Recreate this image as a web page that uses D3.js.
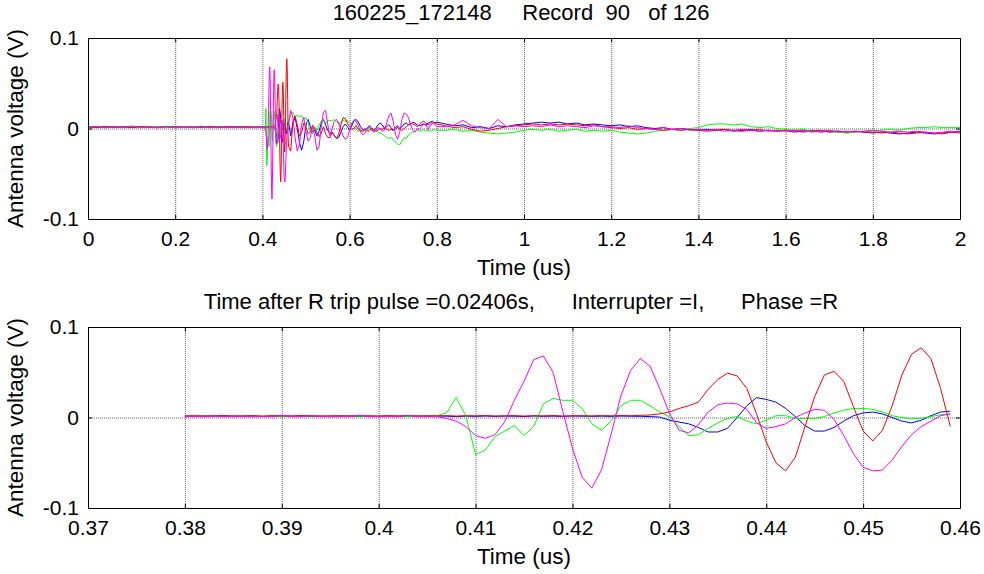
<!DOCTYPE html>
<html>
<head>
<meta charset="utf-8">
<script src="https://cdn.jsdelivr.net/npm/d3@7"></script>
<style>
  body { margin: 0; background: #fff; }
  text { font-family: "Liberation Sans", Arial, sans-serif; fill: #000; }
</style>
</head>
<body>
<svg id="my_svg"></svg>
<script>
const width = 984;
const height = 574;

// sample grids (us)
const earlyTime = d3.range(19).map(i => i * 0.02);          // 0 .. 0.36
const zoomTime = d3.range(80).map(i => 0.38 + i * 0.001);   // 0.380 .. 0.459
const midTime = d3.range(69).map(i => 0.46 + i * 0.005);    // 0.460 .. 0.800
const lateTime = d3.range(60).map(i => 0.82 + i * 0.02);    // 0.82 .. 2.00

// blue channel
const blueEarly = [0.0015, 0.0010, 0.0018, 0.0012, 0.0016, 0.0011, 0.0017, 0.0013, 0.0015, 0.0010, 0.0016, 0.0012, 0.0018, 0.0011, 0.0015, 0.0013, 0.0017, 0.0012, 0.0015];
const blueZoom = [0.0015, 0.0012, 0.0017, 0.0014, 0.0010, 0.0016, 0.0013, 0.0015, 0.0011, 0.0016,
  0.0014, 0.0012, 0.0016, 0.0013, 0.0015, 0.0010, 0.0014, 0.0016, 0.0012, 0.0015,
  0.0013, 0.0016, 0.0011, 0.0014, 0.0015, 0.0012, 0.0016, 0.0014, 0.0010, 0.0015,
  0.0013, 0.0016, 0.0012, 0.0015, 0.0014, 0.0011, 0.0016, 0.0013, 0.0015, 0.0012,
  0.0016, 0.0014, 0.0013, 0.0015, 0.0012, 0.0016, 0.0014, 0.0013, 0.0010, 0.0005,
  -0.003, -0.005, -0.007, -0.011, -0.016, -0.016, -0.012, 0.000, 0.013, 0.022,
  0.020, 0.017, 0.010, 0.001, -0.009, -0.015, -0.015, -0.011, -0.004, 0.002,
  0.005, 0.006, 0.004, 0.000, -0.004, -0.006, -0.003, 0.002, 0.006, 0.007];
const blueMid = [0.007, -0.008, 0.006, 0.012, 0.000, -0.015, -0.024, -0.014, 0.004, 0.010,
  0.002, -0.004, -0.002, -0.008, -0.003, 0.006, 0.010, 0.004, -0.002, -0.006,
  -0.004, -0.008, -0.011, -0.010, -0.004, 0.002, 0.005, 0.002, -0.002, 0.003,
  0.009, 0.010, 0.007, 0.002, -0.001, -0.002, 0.000, 0.003, 0.001, -0.002,
  0.000, 0.004, 0.006, 0.004, 0.000, 0.002, 0.004, 0.001, -0.002, 0.001,
  0.003, 0.000, 0.002, 0.005, 0.006, 0.004, 0.005, 0.007, 0.006, 0.004,
  0.003, 0.004, 0.005, 0.004, 0.006, 0.007, 0.008, 0.006, 0.007];
const blueLate = [0.005, 0.003, 0.004, 0.001, 0.002, 0.000, 0.003, 0.002, 0.004, 0.005,
  0.006, 0.007, 0.006, 0.007, 0.005, 0.006, 0.004, 0.005, 0.004, 0.003,
  0.004, 0.002, 0.003, 0.001, 0.000, 0.001, -0.001, 0.000, -0.001, -0.002,
  -0.001, -0.002, -0.001, -0.003, -0.002, -0.001, -0.003, -0.002, -0.003, -0.002,
  -0.004, -0.003, -0.002, -0.004, -0.003, -0.003, -0.004, -0.003, -0.004, -0.005,
  -0.004, -0.005, -0.006, -0.005, -0.004, -0.005, -0.006, -0.005, -0.004, -0.003];

// green channel
const greenEarly = [0.0012, 0.0018, 0.0010, 0.0016, 0.0013, 0.0019, 0.0011, 0.0015, 0.0017, 0.0012, 0.0018, 0.0010, 0.0015, 0.0017, 0.0012, 0.0016, 0.0011, 0.0018, 0.0015];
const greenZoom = [0.0015, 0.0012, 0.0018, 0.0014, 0.0016, 0.0012, 0.0017, 0.0015, 0.0013, 0.0018,
  0.0014, 0.0016, 0.0012, 0.0017, 0.0015, 0.0013, 0.0016, 0.0018, 0.0014, 0.0012,
  0.0016, 0.0015, 0.0017, 0.0013, 0.0015, 0.0018, 0.0020,
  0.005, 0.022, 0.002, -0.041, -0.036, -0.021, -0.015, -0.009, -0.020, -0.010,
  0.015, 0.021, 0.019, 0.019, 0.010, -0.007, -0.014, -0.004, 0.013, 0.019,
  0.019, 0.013, 0.006, 0.001, -0.010, -0.020, -0.019, -0.012, -0.006, -0.001,
  0.001, -0.004, -0.007, -0.003, 0.002, 0.002, -0.001, -0.001, -0.001, 0.001,
  0.005, 0.008, 0.010, 0.010, 0.009, 0.006, 0.002, 0.000, -0.001, -0.001,
  0.001, 0.003, 0.004];
const greenMid = [0.004, 0.016, 0.018, 0.012, 0.015, 0.013, 0.014, 0.010, 0.012, 0.006,
  -0.004, -0.006, 0.002, -0.002, 0.004, 0.008, 0.010, 0.006, 0.009, 0.009,
  0.008, 0.010, 0.008, 0.005, 0.007, 0.009, 0.008, 0.009, 0.006, 0.004,
  0.002, -0.001, -0.003, -0.002, -0.004, -0.002, -0.001, 0.000, -0.002, -0.003,
  -0.002, -0.004, -0.005, -0.006, -0.008, -0.010, -0.011, -0.010, -0.012, -0.015,
  -0.017, -0.018, -0.014, -0.010, -0.011, -0.007, -0.005, -0.004, -0.003, -0.002,
  -0.003, -0.002, -0.001, -0.003, -0.002, -0.003, -0.002, -0.001, -0.002];
const greenLate = [-0.002, -0.001, -0.003, -0.002, -0.004, -0.005, -0.006, -0.005, -0.004, -0.002,
  -0.001, -0.002, -0.001, -0.003, -0.002, -0.001, -0.003, -0.002, -0.003, -0.002,
  -0.004, -0.005, -0.006, -0.005, -0.003, -0.002, -0.001, -0.002, 0.000, 0.001,
  0.004, 0.005, 0.005, 0.004, 0.005, 0.002, 0.001, 0.002, 0.000, -0.001,
  -0.002, -0.001, -0.003, -0.002, -0.004, -0.004, -0.005, -0.004, -0.003, -0.004,
  -0.002, -0.001, -0.002, 0.000, 0.001, 0.001, 0.002, 0.001, 0.001, 0.001];

// red channel
const redEarly = [0.0020, 0.0014, 0.0022, 0.0016, 0.0019, 0.0013, 0.0021, 0.0017, 0.0015, 0.0022, 0.0016, 0.0020, 0.0014, 0.0019, 0.0021, 0.0015, 0.0018, 0.0022, 0.0018];
const redZoom = [0.0018, 0.0020, 0.0016, 0.0019, 0.0022, 0.0017, 0.0018, 0.0021, 0.0016, 0.0019,
  0.0020, 0.0017, 0.0022, 0.0018, 0.0016, 0.0020, 0.0019, 0.0017, 0.0021, 0.0018,
  0.0016, 0.0020, 0.0018, 0.0022, 0.0017, 0.0019, 0.0018, 0.0021, 0.0016, 0.0020,
  0.0018, 0.0022, 0.0017, 0.0019, 0.0021, 0.0016, 0.0020, 0.0018, 0.0022, 0.0017,
  0.0019, 0.0020, 0.0018, 0.0021, 0.0019, 0.0022, 0.0020, 0.0024, 0.0028,
  0.004, 0.006, 0.010, 0.013, 0.017, 0.031, 0.042, 0.049, 0.046, 0.032,
  0.004, -0.027, -0.050, -0.059, -0.044, -0.010, 0.023, 0.047, 0.051, 0.040,
  0.012, -0.015, -0.026, -0.014, 0.013, 0.047, 0.070, 0.077, 0.065, 0.032,
  -0.010];
const redMid = [-0.020, -0.025, 0.008, 0.014, 0.004, -0.008, -0.004, 0.006, 0.002, -0.006,
  -0.004, 0.003, 0.000, -0.004, -0.009, -0.005, 0.002, -0.006, -0.010, -0.010,
  -0.004, -0.008, -0.011, -0.006, 0.004, 0.012, 0.011, 0.006, 0.002, -0.001,
  0.000, 0.003, -0.001, -0.002, -0.003, 0.000, -0.002, -0.003, 0.000, -0.001,
  -0.003, -0.002, 0.000, -0.001, 0.001, -0.001, -0.002, -0.001, -0.002, 0.000,
  0.001, -0.001, -0.002, 0.000, 0.002, 0.004, 0.006, 0.005, 0.004, 0.002,
  0.004, 0.007, 0.008, 0.006, 0.004, 0.005, 0.007, 0.006, 0.005];
const redLate = [0.003, 0.001, 0.002, -0.001, -0.003, -0.002, 0.000, 0.002, 0.003, 0.004,
  0.005, 0.004, 0.005, 0.004, 0.005, 0.004, 0.003, 0.004, 0.002, 0.001,
  0.000, 0.001, -0.001, 0.000, -0.001, -0.002, -0.001, -0.002, -0.001, -0.002,
  -0.003, -0.002, -0.001, -0.002, -0.003, -0.002, -0.001, -0.003, -0.002, -0.003,
  -0.002, -0.004, -0.003, -0.002, -0.004, -0.003, -0.004, -0.003, -0.004, -0.004,
  -0.005, -0.004, -0.005, -0.006, -0.005, -0.004, -0.005, -0.006, -0.004, -0.005];

// magenta channel
const magentaEarly = [0.0015, 0.0025, 0.0008, 0.0022, 0.0012, 0.0028, 0.0010, 0.0020, 0.0006, 0.0024, 0.0012, 0.0018, 0.0008, 0.0026, 0.0011, 0.0021, 0.0009, 0.0019, 0.0013];
const magentaZoom = [0.0010, 0.0012, 0.0008, 0.0015, 0.0010, 0.0009, 0.0012, 0.0008, 0.0011, 0.0010,
  0.0025, 0.0012, 0.0010, 0.0022, 0.0012, 0.0009, 0.0010, 0.0011, 0.0024, 0.0010,
  0.0009, 0.0012, 0.0010, 0.0023, 0.0010, 0.0009, 0.0011,
  -0.001, -0.004, -0.010, -0.020, -0.023, -0.019, -0.005, 0.019, 0.040, 0.064,
  0.068, 0.050, 0.007, -0.034, -0.066, -0.078, -0.058, -0.018, 0.024, 0.052,
  0.065, 0.057, 0.032, 0.005, -0.014, -0.017, -0.008, 0.006, 0.014, 0.016,
  0.015, 0.009, -0.006, -0.012, -0.010, -0.007, 0.000, 0.005, 0.009, 0.008,
  -0.002, -0.020, -0.040, -0.055, -0.059, -0.058, -0.047, -0.032, -0.019, -0.010,
  -0.004, 0.002, 0.004];
const magentaMid = [0.006, 0.020, 0.012, -0.010, -0.025, -0.018, 0.005, 0.012, -0.004, -0.014,
  -0.010, 0.004, -0.008, -0.024, -0.020, 0.002, 0.018, 0.020, 0.004, -0.008,
  0.000, 0.008, 0.010, 0.006, -0.002, -0.008, -0.012, -0.010, -0.002, 0.006,
  0.009, 0.008, 0.003, -0.004, -0.007, -0.005, 0.000, 0.002, -0.001, -0.004,
  -0.002, 0.001, 0.000, -0.003, -0.002, 0.006, 0.014, 0.017, 0.008, -0.006,
  -0.012, -0.004, 0.010, 0.017, 0.016, 0.012, 0.004, -0.002, -0.004, 0.000,
  -0.001, 0.002, 0.005, 0.004, -0.001, 0.003, 0.006, 0.004, 0.002];
const magentaLate = [0.002, 0.004, 0.009, 0.003, 0.001, 0.000, 0.010, 0.002, 0.003, 0.002,
  0.003, 0.002, 0.004, 0.002, 0.003, 0.002, 0.001, 0.003, 0.002, 0.002,
  0.001, 0.003, 0.001, 0.000, -0.001, 0.001, -0.001, 0.000, -0.002, -0.001,
  -0.002, -0.001, -0.003, -0.002, -0.001, -0.002, -0.003, -0.002, -0.003, -0.002,
  -0.003, -0.002, -0.004, -0.003, -0.002, -0.004, -0.003, -0.004, -0.003, -0.002,
  -0.003, -0.004, -0.003, -0.004, -0.003, -0.004, -0.005, -0.004, -0.003, -0.004];

const topTicks = [0, 0.2, 0.4, 0.6, 0.8, 1, 1.2, 1.4, 1.6, 1.8, 2];
const bottomTicks = [0.37, 0.38, 0.39, 0.4, 0.41, 0.42, 0.43, 0.44, 0.45, 0.46];
const yTicks = [-0.1, 0, 0.1];

const topTitle = '160225_172148     Record  90   of 126';
const bottomTitle = 'Time after R trip pulse =0.02406s,      Interrupter =I,      Phase =R';
const xLabel = 'Time (us)';
const yLabel = 'Antenna voltage (V)';

const pair = (times, vals) => times.map((t, i) => [t, vals[i]]);

// drawn in this order, magenta ends on top
const channels = [
  { color: '#0000ff', early: blueEarly, zoom: blueZoom, mid: blueMid, late: blueLate },
  { color: '#00ff00', early: greenEarly, zoom: greenZoom, mid: greenMid, late: greenLate },
  { color: '#ff0000', early: redEarly, zoom: redZoom, mid: redMid, late: redLate },
  { color: '#ff00ff', early: magentaEarly, zoom: magentaZoom, mid: magentaMid, late: magentaLate }
];
channels.forEach(c => {
  c.zoomPts = pair(zoomTime, c.zoom);
  c.allPts = pair(earlyTime, c.early)
    .concat(c.zoomPts, pair(midTime, c.mid), pair(lateTime, c.late));
});

const svg = d3.select('#my_svg')
  .attr('width', width)
  .attr('height', height);

const left = 88, right = 960;
const fontFam = '"Liberation Sans", Arial, sans-serif';

function drawPanel(top, bottom, domain, ticks, title, key) {
  const x = d3.scaleLinear().domain(domain).range([left, right]);
  const y = d3.scaleLinear().domain([-0.1, 0.1]).range([bottom, top]);
  const g = svg.append('g');

  // dotted grid
  const gx = g.append('g')
    .attr('transform', `translate(0,${bottom})`)
    .call(d3.axisBottom(x).tickValues(ticks).tickSize(-(bottom - top)).tickFormat(''));
  const gy = g.append('g')
    .attr('transform', `translate(${left},0)`)
    .call(d3.axisLeft(y).tickValues(yTicks).tickSize(-(right - left)).tickFormat(''));
  [gx, gy].forEach(s => {
    s.select('.domain').remove();
    s.selectAll('line').attr('stroke', '#666').attr('stroke-dasharray', '1,1');
  });

  // traces
  const line = d3.line().x(d => x(d[0])).y(d => y(d[1]));
  channels.forEach(c => {
    g.append('path')
      .datum(c[key])
      .attr('fill', 'none')
      .attr('stroke', c.color)
      .attr('stroke-width', 1)
      .attr('d', line);
  });

  // box with inward ticks
  const axB = g.append('g').attr('transform', `translate(0,${bottom})`)
    .call(d3.axisBottom(x).tickValues(ticks).tickSize(-4).tickSizeOuter(0).tickPadding(12).tickFormat(d => String(d)));
  const axT = g.append('g').attr('transform', `translate(0,${top})`)
    .call(d3.axisTop(x).tickValues(ticks).tickSize(-4).tickSizeOuter(0).tickFormat(''));
  const axL = g.append('g').attr('transform', `translate(${left},0)`)
    .call(d3.axisLeft(y).tickValues(yTicks).tickSize(-4).tickSizeOuter(0).tickPadding(9).tickFormat(d => String(d)));
  const axR = g.append('g').attr('transform', `translate(${right},0)`)
    .call(d3.axisRight(y).tickValues(yTicks).tickSize(-4).tickSizeOuter(0).tickFormat(''));
  [axB, axT, axL, axR].forEach(s => {
    s.attr('font-size', 21).attr('font-family', fontFam);
    s.selectAll('.domain, line').attr('stroke', '#000');
  });

  g.append('text')
    .attr('x', (left + right) / 2 - 3)
    .attr('y', top - 18)
    .attr('text-anchor', 'middle')
    .style('white-space', 'pre')
    .attr('font-size', 22)
    .text(title);

  g.append('text')
    .attr('x', (left + right) / 2)
    .attr('y', bottom + 56)
    .attr('text-anchor', 'middle')
    .attr('font-size', 22.5)
    .text(xLabel);

  g.append('text')
    .attr('transform', `translate(23,${(top + bottom) / 2}) rotate(-90)`)
    .attr('text-anchor', 'middle')
    .attr('font-size', 22.5)
    .text(yLabel);
}

drawPanel(38, 219, [0, 2], topTicks, topTitle, 'allPts');
drawPanel(327, 508, [0.37, 0.46], bottomTicks, bottomTitle, 'zoomPts');
</script>
</body>
</html>
